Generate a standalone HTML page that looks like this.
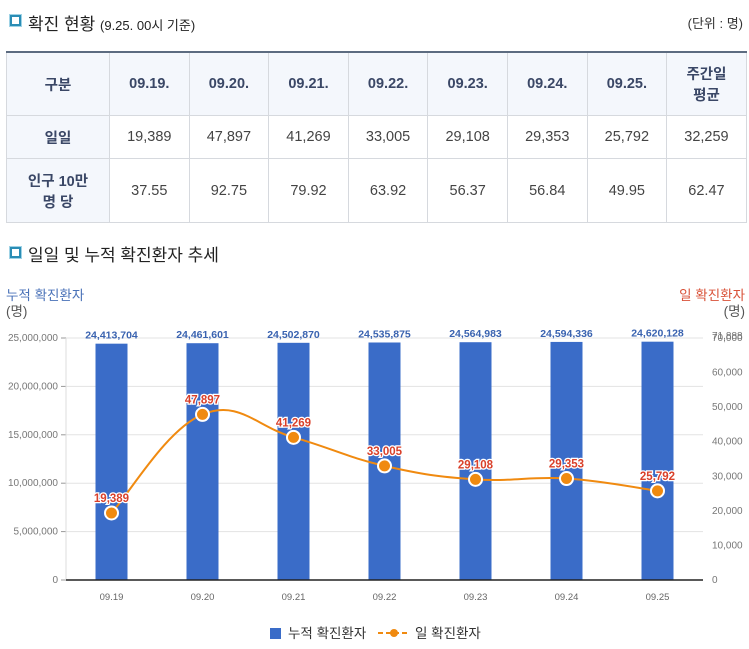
<!DOCTYPE html>
<html><head><meta charset="utf-8">
<style>
body{margin:0;width:749px;height:649px;background:#fff;font-family:"Liberation Sans","Noto Sans CJK KR",sans-serif;position:relative;overflow:hidden;color:#333}
.icon{position:absolute;width:7px;height:7px;border:2px solid #2a8db5;background:#fff;outline:1px solid #9fd3e6}
.h{position:absolute;font-size:17px;color:#222}
table{position:absolute;left:6px;top:51px;width:740px;border-collapse:collapse;border-top:2px solid #5c6b80;table-layout:fixed}
td{border:1px solid #d6d9de;text-align:center;font-size:14.5px;color:#444;padding:0}
tr.hd td{background:#f4f7fc;font-weight:bold;color:#3a4766;height:62px}
td.f{background:#f4f7fc;font-weight:bold;color:#3a4766}
</style></head><body>
<div class="icon" style="left:10px;top:15px"></div>
<div class="h" style="left:28px;top:10px">확진 현황 <span style="font-size:13px">(9.25. 00시 기준)</span></div>
<div style="position:absolute;right:6px;top:13px;font-size:13px">(단위 : 명)</div>
<table>
<colgroup><col style="width:103px"><col span="8" style="width:79.6px"></colgroup>
<tr class="hd"><td>구분</td><td>09.19.</td><td>09.20.</td><td>09.21.</td><td>09.22.</td><td>09.23.</td><td>09.24.</td><td>09.25.</td><td>주간일<br>평균</td></tr>
<tr style="height:43px"><td class="f">일일</td><td>19,389</td><td>47,897</td><td>41,269</td><td>33,005</td><td>29,108</td><td>29,353</td><td>25,792</td><td>32,259</td></tr>
<tr style="height:64px"><td class="f">인구 10만<br>명 당</td><td>37.55</td><td>92.75</td><td>79.92</td><td>63.92</td><td>56.37</td><td>56.84</td><td>49.95</td><td>62.47</td></tr>
</table>
<div class="icon" style="left:10px;top:247px"></div>
<div class="h" style="left:28px;top:241px">일일 및 누적 확진환자 추세</div>
<svg id="chart" width="749" height="649" style="position:absolute;left:0;top:0"></svg>
<script>
const categories=["09.19","09.20","09.21","09.22","09.23","09.24","09.25"];
const cumulative=[24413704,24461601,24502870,24535875,24564983,24594336,24620128];
const daily=[19389,47897,41269,33005,29108,29353,25792];
const leftTicks=[0,5000000,10000000,15000000,20000000,25000000];
const rightTicks=[0,10000,20000,30000,40000,50000,60000,70000];
const NS="http://www.w3.org/2000/svg";
const svg=document.getElementById('chart');
const x0=66,x1=703,y0=580,y1=338;
const step=(x1-x0)/categories.length;
const xc=i=>x0+step*(i+0.5);
const yL=v=>y0-(v/25000000)*(y0-y1);
const yR=v=>y0-(v/70000)*(y0-y1);
const fmt=v=>v.toLocaleString('en-US');
function el(t,a,txt){const e=document.createElementNS(NS,t);for(const k in a)e.setAttribute(k,a[k]);if(txt!=null)e.textContent=txt;svg.appendChild(e);return e;}
function T(x,y,s,fill,size,anchor,w){return el('text',{x:x,y:y,fill:fill,'font-size':size,'text-anchor':anchor,'font-weight':w||'normal','font-family':'"Liberation Sans","Noto Sans CJK KR",sans-serif'},s);}
let t;
t=T(6,300,'누적 확진환자','#4a72b8',13.5,'start');


t=T(6,316,'(명)','#555',13.5,'start');


t=T(745,300,'일 확진환자','#d9533a',13.5,'end');


t=T(745,316,'(명)','#555',13.5,'end');


leftTicks.forEach(v=>{const y=yL(v);
 if(v>0){const g=el('line',{x1:x0,x2:x1,y1:y,y2:y,stroke:'#e3e3e3'});}
 const l=el('line',{x1:x0-5,x2:x0,y1:y,y2:y,stroke:'#999'});
 const tt=T(x0-8,y+3,fmt(v),'#777',10,'end');});
rightTicks.forEach(v=>{const tt=T(712,yR(v)+3,fmt(v),'#777',10,'start');});
t=T(712,yR(70000)+1,'71,888','#777',10,'start');


t=el('line',{x1:x0,x2:x0,y1:y1,y2:y0,stroke:'#ddd'});


categories.forEach((c,i)=>{const v=cumulative[i];const b=el('rect',{x:xc(i)-16,y:yL(v),width:32,height:y0-yL(v),fill:'#3a6cc8'});
 
 
 const lb=T(xc(i),yL(v)-5,fmt(v),'#3a63b0',10.5,'middle','bold');
 const xl=T(xc(i),600,c,'#666',9.5,'middle');});
t=el('line',{x1:x0,x2:x1,y1:y0,y2:y0,stroke:'#222','stroke-width':1.5});


const pts=daily.map((v,i)=>[xc(i),yR(v)]);
let d='M'+pts[0][0]+','+pts[0][1];
for(let i=0;i<pts.length-1;i++){const p0=pts[Math.max(0,i-1)],p1=pts[i],p2=pts[i+1],p3=pts[Math.min(pts.length-1,i+2)];const k=0.2;
 d+=' C'+(p1[0]+(p2[0]-p0[0])*k)+','+(p1[1]+(p2[1]-p0[1])*k)+' '+(p2[0]-(p3[0]-p1[0])*k)+','+(p2[1]-(p3[1]-p1[1])*k)+' '+p2[0]+','+p2[1];}
t=el('path',{d:d,fill:'none',stroke:'#f08a10','stroke-width':2});


daily.forEach((v,i)=>{const c=el('circle',{cx:pts[i][0],cy:pts[i][1],r:6.5,fill:'#f08a10',stroke:'#fff','stroke-width':2});
 
 
 const lb=T(pts[i][0],pts[i][1]-11,fmt(v),'#d9402a',11.5,'middle','bold');lb.setAttribute('stroke','#fff');lb.setAttribute('stroke-width','2.5');lb.setAttribute('paint-order','stroke');
 
 });
t=el('rect',{x:270,y:628,width:11,height:11,fill:'#3a6cc8'});


t=T(288,638,'누적 확진환자','#333',13.5,'start');


t=el('line',{x1:378,x2:410,y1:633,y2:633,stroke:'#f08a10','stroke-width':2,'stroke-dasharray':'5,3'});


t=el('circle',{cx:394,cy:633,r:4,fill:'#f08a10'});


t=T(415,638,'일 확진환자','#333',13.5,'start');


</script>
</body></html>
